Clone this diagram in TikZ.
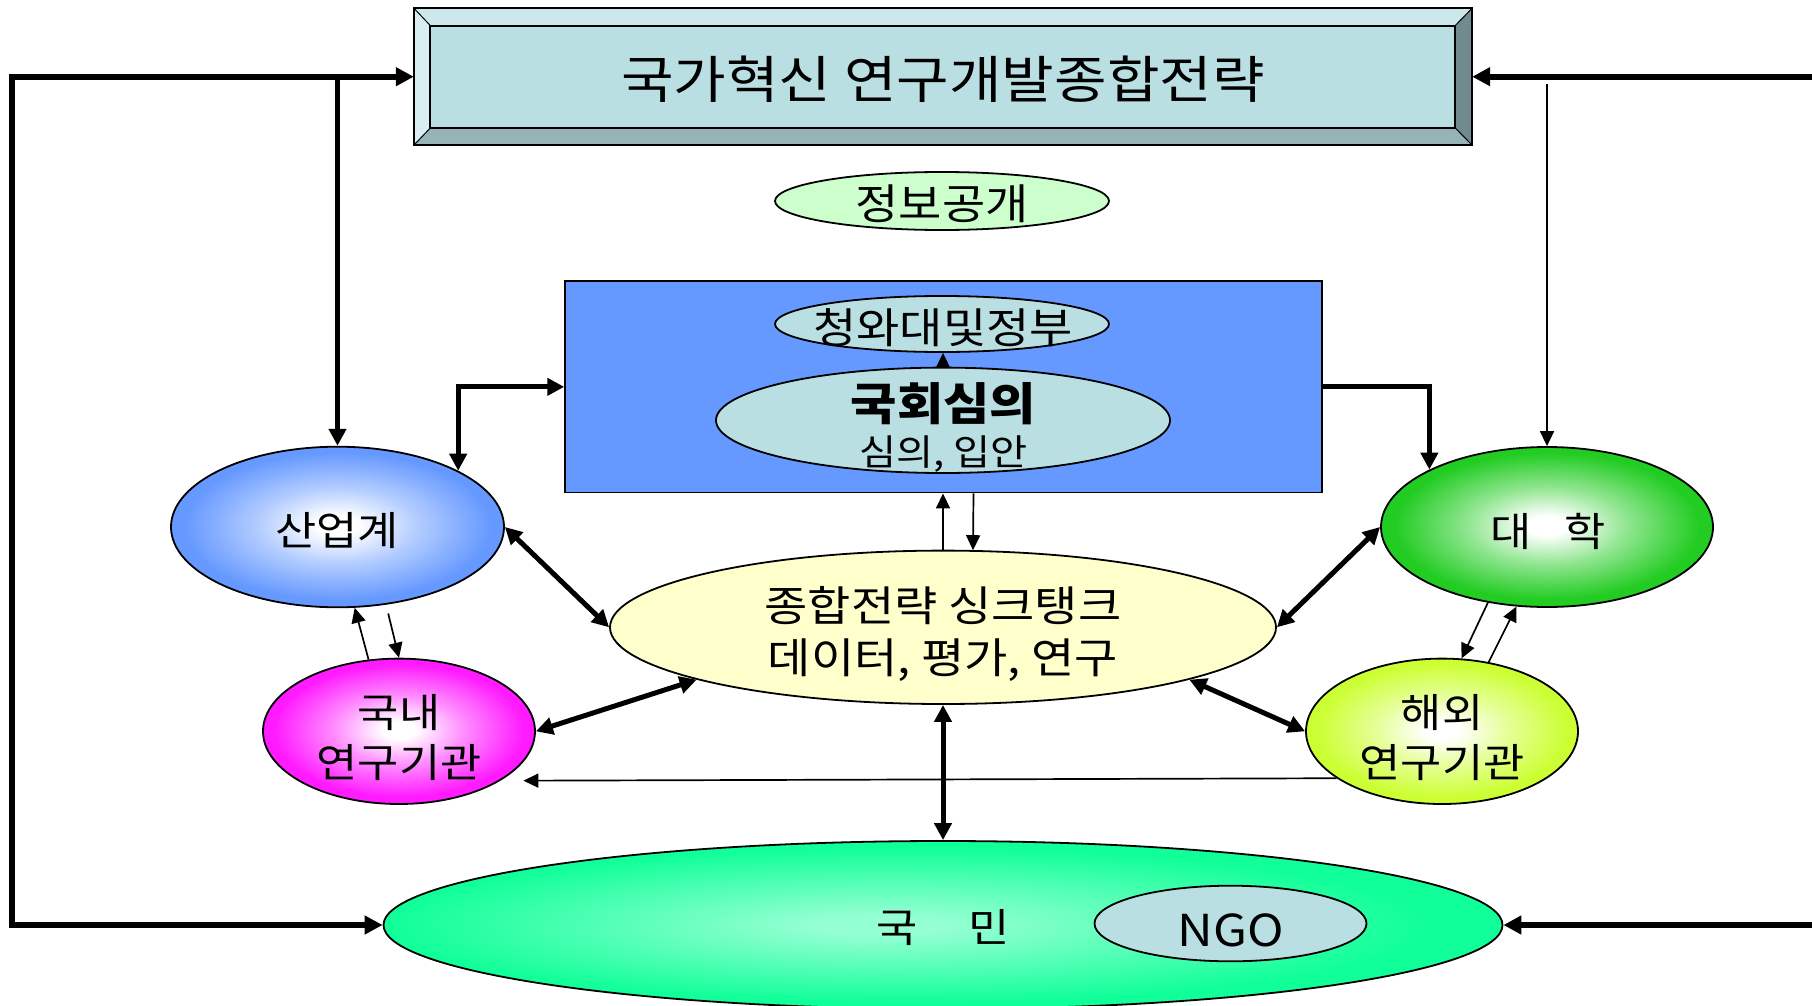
\documentclass[tikz,border=0pt]{standalone}
\usepackage{fontspec}
\newfontfamily\kr{Noto Sans CJK KR}[FakeStretch=1.12]
\usetikzlibrary{shapes.geometric,arrows.meta,calc}
\definecolor{tealface}{HTML}{B9DFE2}
\definecolor{tealtop}{HTML}{CCE8EA}
\definecolor{tealleft}{HTML}{D8EEF0}
\definecolor{tealbot}{HTML}{97B3B7}
\definecolor{tealright}{HTML}{708A8D}
\definecolor{infog}{HTML}{CCFFCC}
\definecolor{govblue}{HTML}{6699FF}
\definecolor{pale}{HTML}{B9DFE2}
\definecolor{thinky}{HTML}{FFFFCC}
\definecolor{indblue}{HTML}{6699FF}
\definecolor{univgreen}{HTML}{22CC22}
\definecolor{dommag}{HTML}{FF1AFF}
\definecolor{ovsyg}{HTML}{CCFF33}
\definecolor{peopleout}{HTML}{11FF99}
\definecolor{peoplein}{HTML}{94FFD2}
\pgfdeclareradialshading{indshade}{\pgfpoint{0bp}{0.5bp}}{color(0bp)=(white); color(3bp)=(white); color(12bp)=(indblue!50!white); color(23bp)=(indblue); color(50bp)=(indblue)}
\pgfdeclareradialshading{univshade}{\pgfpoint{0bp}{0.5bp}}{color(0bp)=(white); color(3bp)=(white); color(12bp)=(univgreen!50!white); color(23bp)=(univgreen); color(50bp)=(univgreen)}
\pgfdeclareradialshading{domshade}{\pgfpoint{0bp}{0.5bp}}{color(0bp)=(white); color(3bp)=(white); color(12bp)=(dommag!50!white); color(23bp)=(dommag); color(50bp)=(dommag)}
\pgfdeclareradialshading{ovsshade}{\pgfpoint{0bp}{0.5bp}}{color(0bp)=(white); color(3bp)=(white); color(12bp)=(ovsyg!50!white); color(23bp)=(ovsyg); color(50bp)=(ovsyg)}
\pgfdeclareradialshading{peopleshade}{\pgfpoint{-3bp}{0bp}}{color(0bp)=(peoplein); color(3bp)=(peoplein); color(23bp)=(peopleout); color(50bp)=(peopleout)}
\tikzset{
  oval/.style={ellipse, draw=black, line width=1.8pt, inner sep=0pt},
  txt/.style={inner sep=0pt, align=center},
  bigarr/.style={line width=6pt, >={Triangle[length=18pt,width=18pt]}},
  midarr/.style={line width=5pt, >={Triangle[length=17pt,width=17pt]}},
  thinarr/.style={line width=1.7pt, >={Triangle[length=15pt,width=14pt]}},
}
\begin{document}
\begin{tikzpicture}[x=1pt,y=-1pt]
\fill[white] (0,0) rectangle (1812,1006);
\useasboundingbox (0,0) rectangle (1812,1006);

% title box with bevel
\node[draw=none, minimum width=1058pt, minimum height=136.7pt, inner sep=0pt] (title) at (943,76.7) {};
\coordinate (ti1) at ($(title.north west)+(16.5,17.4)$);
\coordinate (ti2) at ($(title.north east)+(-17,17.4)$);
\coordinate (ti3) at ($(title.south east)+(-17,-17.3)$);
\coordinate (ti4) at ($(title.south west)+(16.5,-17.3)$);
\fill[tealtop] (title.north west) -- (title.north east) -- (ti2) -- (ti1) -- cycle;
\fill[tealleft] (title.north west) -- (ti1) -- (ti4) -- (title.south west) -- cycle;
\fill[tealbot] (title.south west) -- (ti4) -- (ti3) -- (title.south east) -- cycle;
\fill[tealright] (title.north east) -- (title.south east) -- (ti3) -- (ti2) -- cycle;
\fill[tealface] (ti1) rectangle (ti3);
\draw[line width=2pt] (ti1) rectangle (ti3);
\draw[line width=1pt] (title.north west) -- (ti1) (title.north east) -- (ti2) (title.south east) -- (ti3) (title.south west) -- (ti4);
\draw[line width=2pt] (title.north west) rectangle (title.south east);

% nodes
\node[oval, fill=infog, minimum width=334pt, minimum height=58pt] (info) at (942,201) {};
\node[draw=black, line width=1.5pt, fill=govblue, minimum width=757pt, minimum height=211.7pt, inner sep=0pt] (gov) at (943.5,386.85) {};
\node[oval, fill=pale, minimum width=334pt, minimum height=56pt] (bh) at (942,324) {};
\node[oval, fill=pale, minimum width=454pt, minimum height=105.4pt] (asm) at (943,420.3) {};
\node[oval, shading=indshade, minimum width=333pt, minimum height=160.6pt] (ind) at (337.5,527) {};
\node[oval, shading=univshade, minimum width=332pt, minimum height=160pt] (univ) at (1547,527) {};
\node[oval, fill=thinky, minimum width=666pt, minimum height=153.4pt] (think) at (943,627.3) {};
\node[oval, shading=domshade, minimum width=272pt, minimum height=145.4pt] (dom) at (399,731.3) {};
\node[oval, shading=ovsshade, minimum width=272pt, minimum height=145.4pt] (ovs) at (1442,731.3) {};
\node[oval, shading=peopleshade, minimum width=1119pt, minimum height=168pt] (people) at (943,925) {};
\node[oval, fill=pale, minimum width=272pt, minimum height=75.6pt] (ngo) at (1230.5,923.5) {};

% texts
\node[txt, font=\kr\fontsize{51}{60}\selectfont] (tTitle) at (943,79) {국가혁신 연구개발종합전략};
\node[txt, font=\kr\fontsize{42}{50}\selectfont] (tInfo) at (942,204) {정보공개};
\node[txt, font=\kr\fontsize{42}{50}\selectfont] (tBh) at (943,327.5) {청와대및정부};
\node[txt, font=\kr\bfseries\fontsize{45}{50}\selectfont] (tAsm1) at (943.5,404) {국회심의};
\node[txt, font=\kr\fontsize{36}{42}\selectfont] (tAsm2) at (943.5,454) {심의, 입안};
\node[txt, font=\kr\fontsize{40}{48}\selectfont] (tInd) at (337,531) {산업계};
\node[txt, font=\kr\fontsize{40}{48}\selectfont] (tUniv) at (1548,531) {대\hspace{0.8em}학};
\node[txt, font=\kr\fontsize{42}{52}\selectfont] (tThink) at (943,634) {종합전략 싱크탱크\\데이터, 평가, 연구};
\node[txt, font=\kr\fontsize{40}{50}\selectfont] (tDom) at (399,738) {국내\\연구기관};
\node[txt, font=\kr\fontsize{40}{50}\selectfont] (tOvs) at (1442,738) {해외\\연구기관};
\node[txt, font=\kr\fontsize{40}{48}\selectfont] (tPeople) at (943,928) {국\hspace{1.25em}민};
\node[txt, font=\kr\fontsize{44}{52}\selectfont] (tNgo) at (1230.5,930) {NGO};

% connectors
\coordinate (Lc) at (12,500);
\coordinate (Rc) at (1812,0);
\coordinate (ustart) at (1547,84);
\draw[bigarr,<->] (people.west) -| (Lc) |- (title.west);
\draw[midarr,->] (title.west -| ind.north) -- (ind.north);
\draw[bigarr,->] (title.east -| Rc) -- (title.east);
\draw[bigarr,->] (people.east -| Rc) -- (people.east);
\draw[thinarr,->] (ustart) -- (univ.north);
\draw[midarr,<->] (gov.west) -| (ind.25.8);
\draw[midarr,->] (gov.east) -| (univ.154.5);
\draw[midarr,<->] (ind.east) -- (think.west);
\draw[midarr,<->] (univ.west) -- (think.east);
\draw[midarr,<->] (dom.east) -- (think.192.7);
\draw[midarr,<->] (think.-12.6) -- (ovs.west);
\draw[midarr,<->] (think.south) -- (people.north);
\draw[thinarr,->] (think.north) -- (think.north |- gov.south);
\draw[thinarr,->] ($(gov.south)+(30,0)$) -- ($(think.north)+(30,0.5)$);
\draw[thinarr,->] (asm.north) -- (asm.north |- bh.south);
\draw[thinarr,->,shorten >=23pt] (ovs.204.9) -- (dom.-26);
\draw[thinarr,->] (dom.113.4) -- (ind.-78.5);
\draw[thinarr,->,shorten <=9pt] (ind.-58.7) -- (dom.north);
\draw[thinarr,->] (univ.-128.8) -- (ovs.75.2);
\draw[thinarr,->] (ovs.56.7) -- (univ.-111.5);
\end{tikzpicture}
\end{document}
